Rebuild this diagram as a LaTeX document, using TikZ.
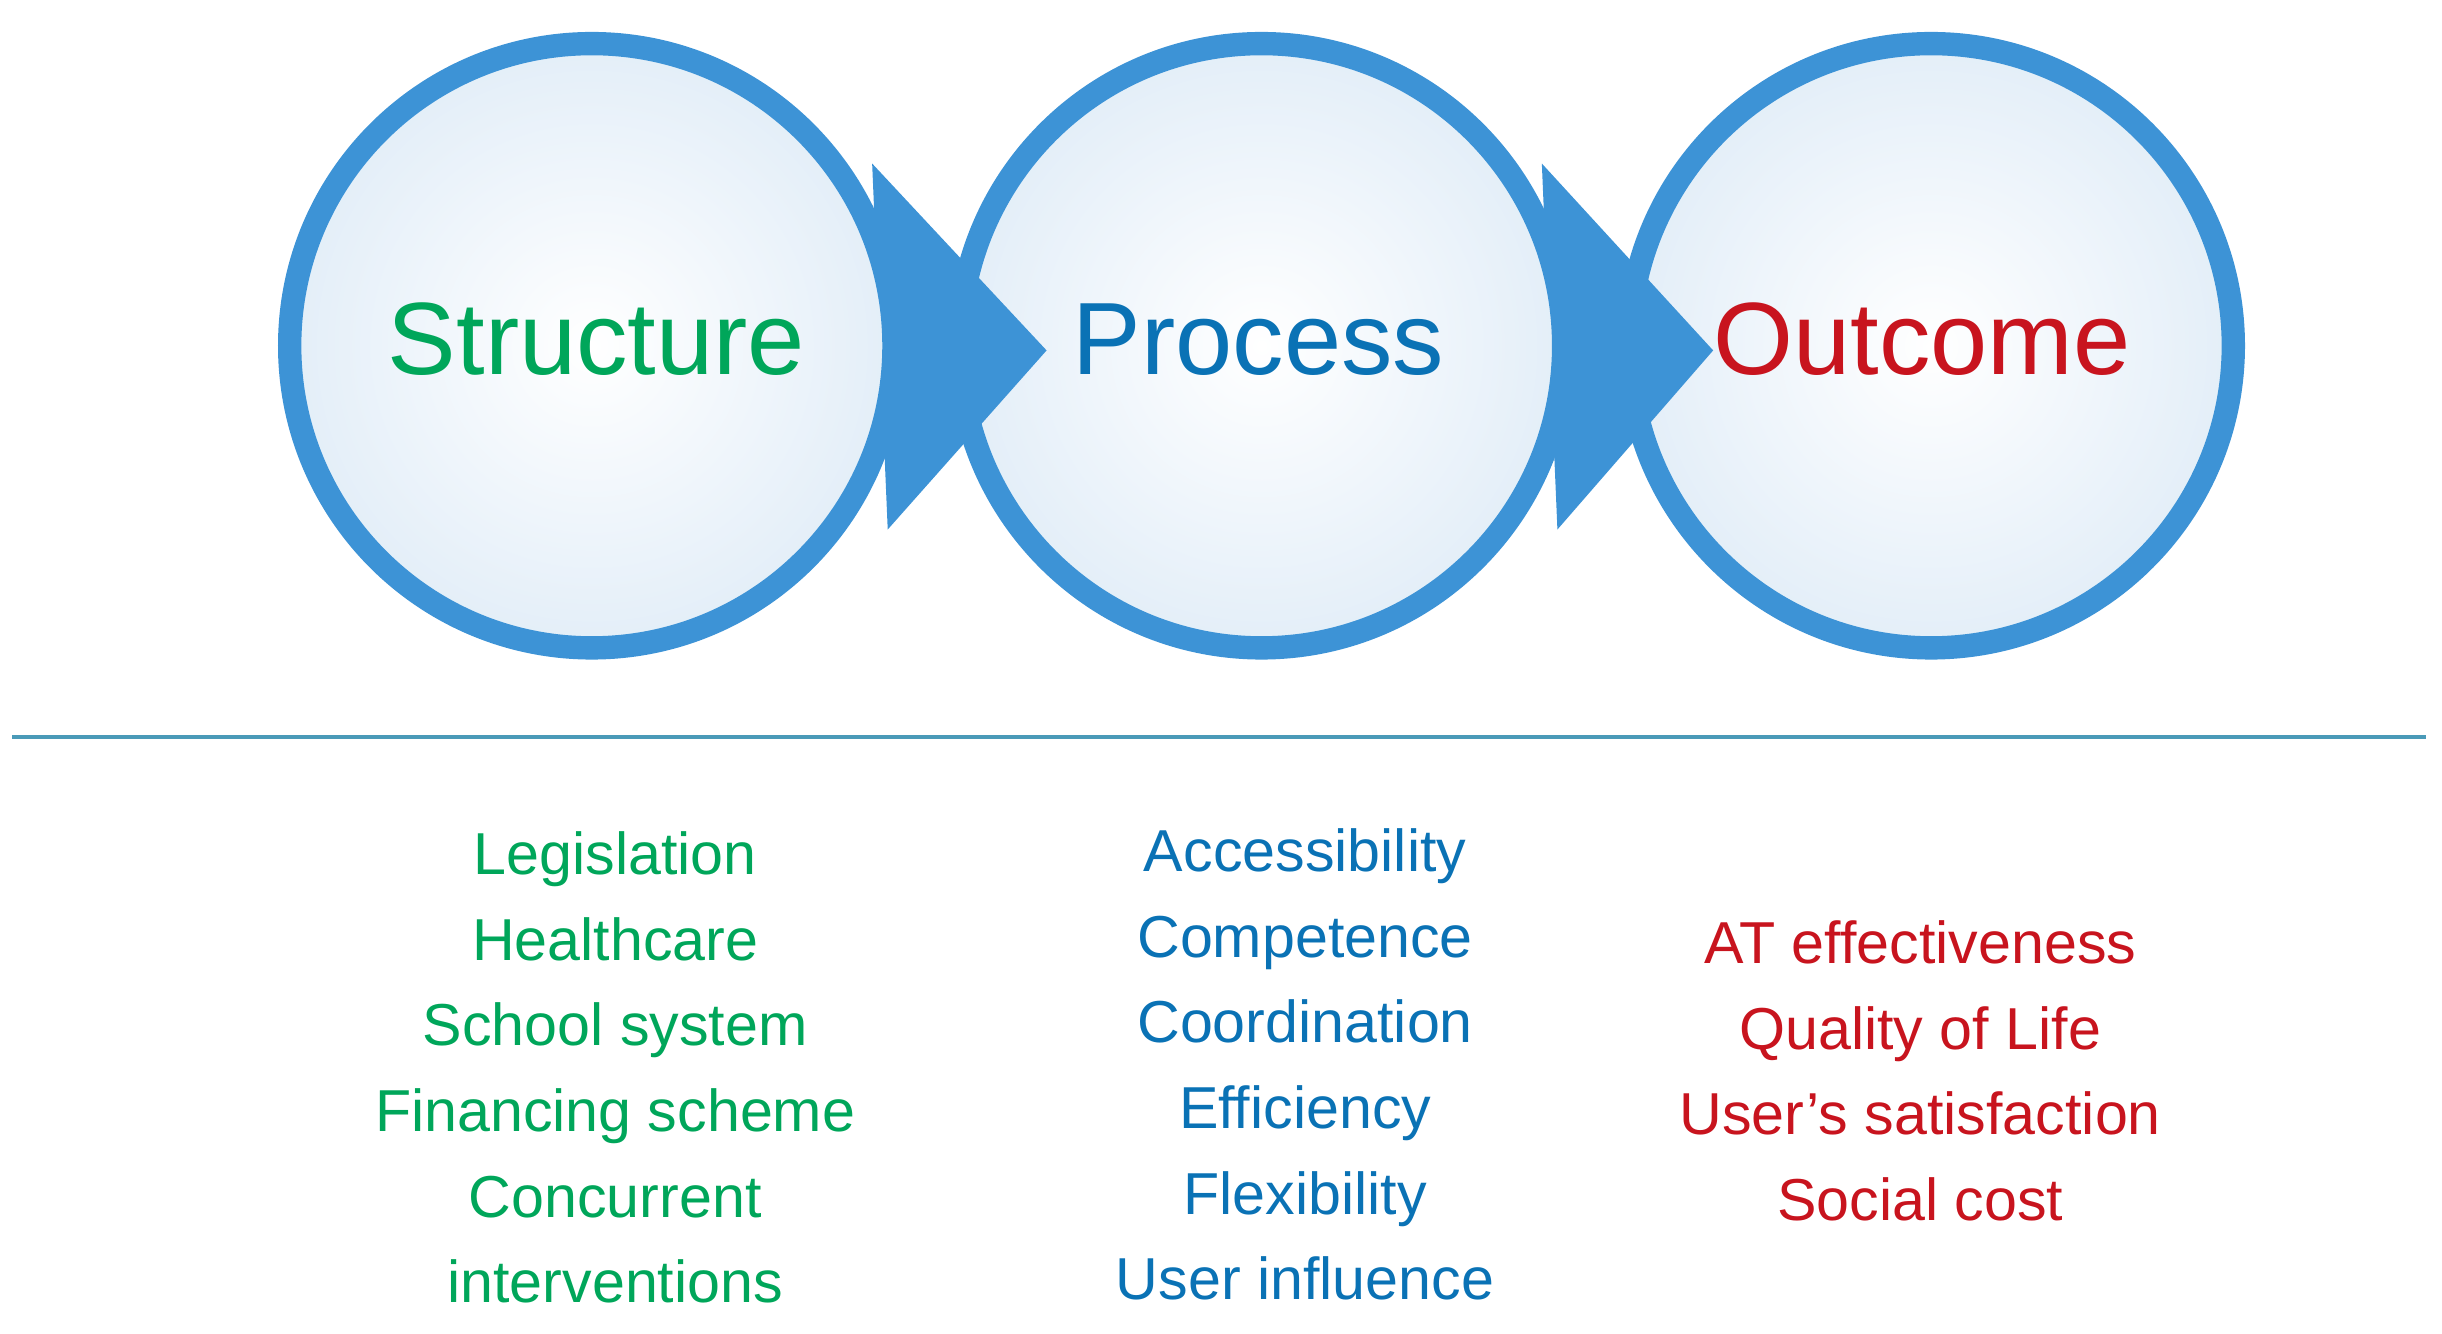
\documentclass[tikz,border=0pt]{standalone}
\usepackage{fontspec}
\setmainfont{Liberation Sans}
\definecolor{rimblue}{HTML}{3D93D6}
\definecolor{inner}{HTML}{E3EEF8}
\definecolor{sgreen}{HTML}{00A65A}
\definecolor{pblue}{HTML}{0A72B5}
\definecolor{ored}{HTML}{C8141E}
\definecolor{lineblue}{HTML}{4A9AB8}
\begin{document}
\begin{tikzpicture}[x=0.5pt,y=-0.5pt]
\tikzset{ball/.style={circle,minimum size=194pt,inner sep=0pt,draw=rimblue,line width=7.5pt,inner color=white,outer color=inner},
tri/.style={fill=rimblue},
title/.style={font=\fontsize{33}{40}\selectfont},
lst/.style={font=\fontsize{19}{27.5}\selectfont,align=center}}
\useasboundingbox (0,0) rectangle (1568,856);
\node[ball] (c3) at (1240,222) {};
\coordinate (t2a) at (990,105); \coordinate (t2b) at (1100,225); \coordinate (t2c) at (1000,340);
\fill[tri] (t2a) -- (t2b) -- (t2c) -- cycle;
\node[ball] (c2) at (810,222) {};
\coordinate (t1a) at (560,105); \coordinate (t1b) at (672,225); \coordinate (t1c) at (570,340);
\fill[tri] (t1a) -- (t1b) -- (t1c) -- cycle;
\node[ball] (c1) at (380,222) {};
\node[title,text=sgreen] (s) at (383,218) {Structure};
\node[title,text=pblue] (p) at (808,218) {Process};
\node[title,text=ored] (o) at (1234,218) {Outcome};
\coordinate (l1) at (8,473); \coordinate (l2) at (1558,473);
\draw[lineblue,line width=1.2pt] (l1) -- (l2);
\node[lst,text=sgreen,anchor=north] (sl) at (395,527) {Legislation\\Healthcare\\School system\\Financing scheme\\Concurrent\\interventions};
\node[lst,text=pblue,anchor=north] (pl) at (838,525) {Accessibility\\Competence\\Coordination\\Efficiency\\Flexibility\\User influence};
\node[lst,text=ored,anchor=north] (ol) at (1233,584) {AT effectiveness\\Quality of Life\\User’s satisfaction\\Social cost};
\end{tikzpicture}
\end{document}
